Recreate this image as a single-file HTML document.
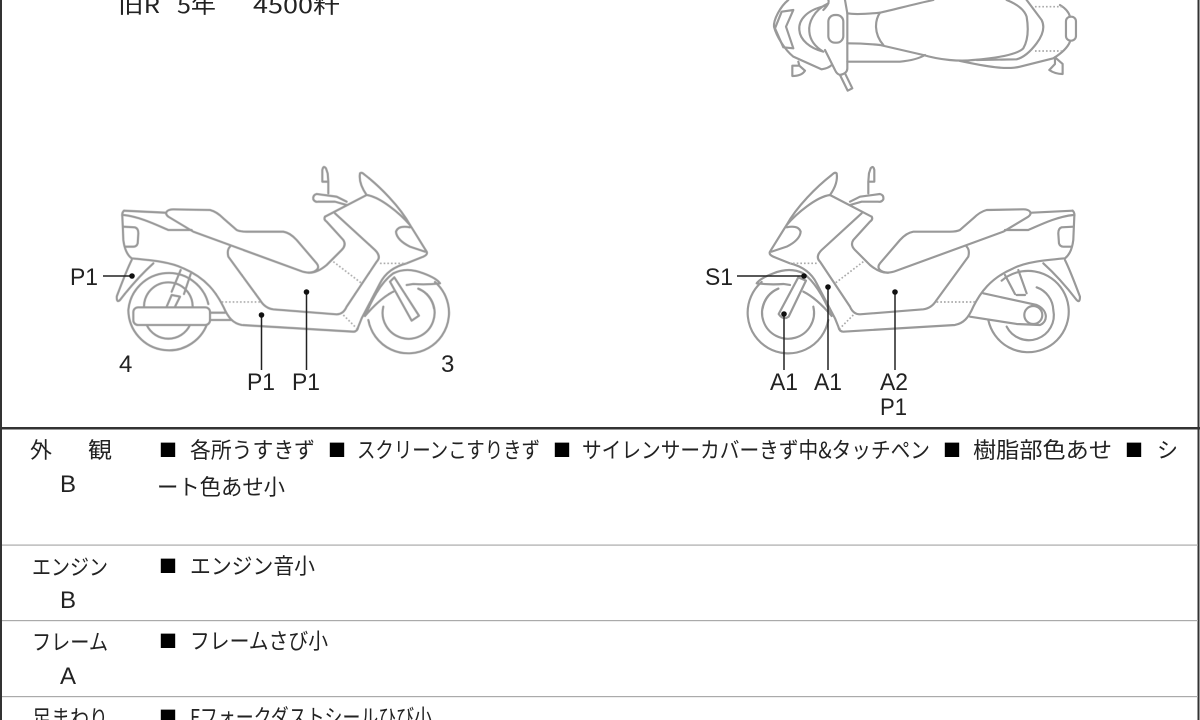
<!DOCTYPE html>
<html lang="ja"><head><meta charset="utf-8"><style>
html,body{margin:0;padding:0;background:#fff;overflow:hidden}
svg{display:block}
text{font-family:"Liberation Sans","Noto Sans CJK JP",sans-serif;fill:#222}
.j{font-size:22px;font-family:"Noto Sans CJK JP","Liberation Sans",sans-serif}
.l{font-size:24px}
.b{font-size:18px;font-family:"Noto Sans CJK JP",sans-serif;fill:#000}
.m path,.m circle,.m rect{fill:none;stroke:#999;stroke-width:6.5;stroke-linejoin:round;stroke-linecap:round}
.m .w{fill:#fff}
.m .d{stroke-dasharray:5 6;stroke-width:5;stroke-linecap:butt;stroke:#aaa}
.c line{stroke:#222;stroke-width:1.5}
.c circle{fill:#111}
.s{filter:blur(.35px)}
</style></head><body>
<svg width="1200" height="720" viewBox="0 0 1200 720" xmlns="http://www.w3.org/2000/svg">
<defs>
<g id="bike" class="m">
<path d="M1125,396A122,122 0 1 1 925,510"/><path d="M1075,416A78,78 0 1 1 970,470"/><path d="M1075,416A78,78 0 0 1 1122,475"/>
<path d="M192,182L315,188M190,195C240,200 290,225 325,240L395,240"/>
<path d="M192,182Q185,188 187,200L190,270Q195,310 215,325C270,330 330,335 370,355C440,385 470,430 490,470C505,505 520,520 545,525L880,545Q892,545 895,530L905,505L960,400C975,370 1000,350 1040,340L1085,322Q1105,315 1100,305C1075,265 1060,240 1050,225C1020,190 960,140 920,135L795,200"/>
<path d="M190,230L225,232Q235,235 235,250L233,280Q230,290 220,290L197,290"/>
<path d="M320,185Q325,178 340,178L450,180Q470,185 490,205L530,240Q540,245 560,245L670,245Q690,248 710,270L770,340Q782,355 762,365Q745,372 720,362L400,245L325,200Q315,192 320,185Z"/>
<path d="M510,290Q500,300 505,320L600,450Q615,475 640,478L830,493Q850,493 860,470L950,335Q965,320 945,300L825,190"/>
<path d="M795,200Q790,208 800,215L850,270Q860,285 845,300L800,345Q770,370 745,368"/>
<path d="M920,135Q895,100 900,70Q905,65 915,75C960,110 1020,170 1050,225"/>
<path d="M1050,232Q1015,225 1008,245Q1010,270 1050,290L1095,305"/>
<path d="M860,155L830,140L770,132Q758,135 760,148Q765,157 775,155L825,155L860,165"/>
<path d="M805,130L805,95L787,95L787,60Q790,45 798,55L803,70L805,95"/>
<path d="M915,498C935,450 965,395 1000,370Q1040,350 1090,370Q1130,385 1140,400Q1100,405 1060,402L1040,405M915,498Q960,445 1000,425"/>
<path d="M215,330Q200,360 170,440Q170,460 180,450Q230,385 280,340"/>
<path class="d" d="M485,456L600,456M820,335L905,400M960,340L1040,340M850,495L890,535"/>
</g>
</defs>

<rect width="1200" height="720" fill="#fff"/>
<path d="M1,0V720M1198.5,0V720" stroke="#333" stroke-width="2" fill="none"/>

<g class="s">
<text x="118" y="13" class="j" textLength="42" lengthAdjust="spacingAndGlyphs">旧R</text>
<text x="177" y="13" class="j" textLength="39" lengthAdjust="spacingAndGlyphs">5年</text>
<text x="253" y="13" class="j" textLength="87" lengthAdjust="spacingAndGlyphs">4500粁</text>

<!-- top view -->
<g class="m" transform="translate(760,0) scale(.3333)">
<path d="M85,0C60,20 40,60 42,80C50,110 75,150 100,170L185,208Q205,205 215,195"/>
<path d="M65,35L100,30L78,80L100,145L70,142L45,85Z"/>
<path d="M195,18C140,30 115,60 118,90C120,120 150,145 190,155M205,10C160,30 145,70 148,95C150,120 165,140 190,155"/>
<path d="M205,0Q210,10 190,30M255,0L262,40L262,205Q262,220 240,225Q230,222 225,210L195,150"/>
<rect x="205" y="45" width="45" height="83" rx="20"/>
<path d="M240,225L263,272L277,265L255,220"/>
<path d="M262,40Q290,45 360,38C400,30 450,15 520,0M262,130Q310,130 360,135L490,165C540,180 600,185 640,180C700,175 770,165 790,145Q810,110 800,50Q790,20 740,0"/>
<path d="M360,38C345,60 340,100 370,135M262,185L420,185Q470,180 495,165M600,183C680,200 740,210 780,200L880,175Q920,150 930,125"/>
<path d="M650,180L770,178Q800,170 830,130Q860,90 845,60L800,0M900,15Q925,30 930,50"/>
<rect x="918" y="50" width="30" height="72" rx="14"/>
<path class="d" d="M825,20L910,20M825,153L905,153"/>
<path d="M115,185L118,197L97,197L97,228Q125,228 135,212L118,197M885,172L885,192L868,210Q885,222 908,222L908,192Z"/>
</g>

<!-- left bike -->
<g transform="translate(60,150) scale(.3333)">
<use href="#bike"/>
<g class="m">
<path d="M205,480A122,122 0 0 1 445,462"/><path d="M205,480A122,122 0 0 0 445,510"/>
<path d="M252,470A72,72 0 0 1 398,470M260,525A72,72 0 0 0 390,525"/>
<rect class="w" x="220" y="472" width="230" height="53" rx="14"/>
<path d="M450,488L495,488M450,510L515,510"/>
<path d="M335,425L362,360M372,432L392,372M320,470L335,435L360,440L345,470"/>
<path class="w" d="M990,395L1003,382L1077,497L1055,512Z"/>
</g>
</g>

<!-- right bike (mirrored) -->
<g transform="translate(690,150) scale(.3333)">
<g transform="translate(1340,0) scale(-1,1)"><use href="#bike"/></g>
<g class="m">
<path d="M935,392A122,122 0 1 1 895,510"/>
<path d="M1040,412A75,75 0 0 1 1090,480A75,75 0 0 1 950,530"/>
<path class="w" d="M880,430L1040,465C1075,480 1075,515 1050,525L980,522L840,500"/>
<circle cx="1030" cy="495" r="27"/>
<path d="M945,375L975,432M985,360L1010,430M980,435L1005,435"/>
<path class="w" d="M325,382L348,392L296,500Q280,512 266,492Z"/>
</g>
</g>
</g>

<!-- callouts -->
<g class="c">
<line x1="103" y1="276" x2="132" y2="276"/><circle cx="132" cy="276" r="2.8"/>
<line x1="261.5" y1="315" x2="261.5" y2="370"/><circle cx="261.5" cy="315" r="2.8"/>
<line x1="306.5" y1="292" x2="306.5" y2="370"/><circle cx="306.5" cy="292" r="2.8"/>
<line x1="737" y1="276" x2="804" y2="276"/><circle cx="804" cy="276" r="2.8"/>
<line x1="784" y1="314" x2="784" y2="370"/><circle cx="784" cy="314" r="2.8"/>
<line x1="828" y1="287" x2="828" y2="370"/><circle cx="828" cy="287" r="2.8"/>
<line x1="895" y1="292" x2="895" y2="370"/><circle cx="895" cy="292" r="2.8"/>
</g>
<g>
<text x="70" y="285" textLength="28" lengthAdjust="spacingAndGlyphs" class="l">P1</text>
<text x="119" y="372" class="l" font-size="25">4</text>
<text x="247" y="390" textLength="28" lengthAdjust="spacingAndGlyphs" class="l">P1</text>
<text x="292" y="390" textLength="28" lengthAdjust="spacingAndGlyphs" class="l">P1</text>
<text x="441" y="372" class="l">3</text>
<text x="705" y="285" textLength="28" lengthAdjust="spacingAndGlyphs" class="l">S1</text>
<text x="770" y="390" textLength="28" lengthAdjust="spacingAndGlyphs" class="l">A1</text>
<text x="814" y="390" textLength="28" lengthAdjust="spacingAndGlyphs" class="l">A1</text>
<text x="880" y="390" textLength="28" lengthAdjust="spacingAndGlyphs" class="l">A2</text>
<text x="880" y="415" textLength="27" lengthAdjust="spacingAndGlyphs" class="l">P1</text>
</g>

<!-- table -->
<rect x="0" y="427" width="1200" height="2.5" fill="#333"/>
<rect x="2" y="544.5" width="1196" height="1.2" fill="#aaa"/>
<rect x="2" y="620" width="1196" height="1.2" fill="#aaa"/>
<rect x="2" y="696" width="1196" height="1.2" fill="#aaa"/>

<text class="j" x="30" y="458" textLength="22" lengthAdjust="spacingAndGlyphs">外</text><text class="j" x="88" y="458" textLength="24" lengthAdjust="spacingAndGlyphs">観</text>
<text class="l" x="60" y="492">B</text>
<text class="b" x="159" y="457">■</text>
<text class="j" x="190" y="458" textLength="125" lengthAdjust="spacingAndGlyphs">各所うすきず</text>
<text class="b" x="328" y="457">■</text>
<text class="j" x="357" y="458" textLength="183" lengthAdjust="spacingAndGlyphs">スクリーンこすりきず</text>
<text class="b" x="553" y="457">■</text>
<text class="j" x="582" y="458" textLength="348" lengthAdjust="spacingAndGlyphs">サイレンサーカバーきず中&amp;タッチペン</text>
<text class="b" x="943" y="457">■</text>
<text class="j" x="973" y="458" textLength="139" lengthAdjust="spacingAndGlyphs">樹脂部色あせ</text>
<text class="b" x="1125" y="457">■</text>
<text class="j" x="1157" y="458" textLength="21" lengthAdjust="spacingAndGlyphs">シ</text>
<text class="j" x="157" y="495" textLength="128" lengthAdjust="spacingAndGlyphs">ート色あせ小</text>

<text class="j" x="32" y="575" textLength="76" lengthAdjust="spacingAndGlyphs">エンジン</text>
<text class="l" x="60" y="608">B</text>
<text class="b" x="159" y="573">■</text>
<text class="j" x="190" y="574" textLength="125" lengthAdjust="spacingAndGlyphs">エンジン音小</text>

<text class="j" x="32" y="650" textLength="76" lengthAdjust="spacingAndGlyphs">フレーム</text>
<text class="l" x="60" y="684">A</text>
<text class="b" x="159" y="648">■</text>
<text class="j" x="190" y="649" textLength="138" lengthAdjust="spacingAndGlyphs">フレームさび小</text>

<text class="j" x="32" y="726" textLength="76" lengthAdjust="spacingAndGlyphs">足まわり</text>
<text class="b" x="159" y="724">■</text>
<text class="j" x="190" y="725" textLength="242" lengthAdjust="spacingAndGlyphs">Fフォークダストシールひび小</text>
</svg>
</body></html>
